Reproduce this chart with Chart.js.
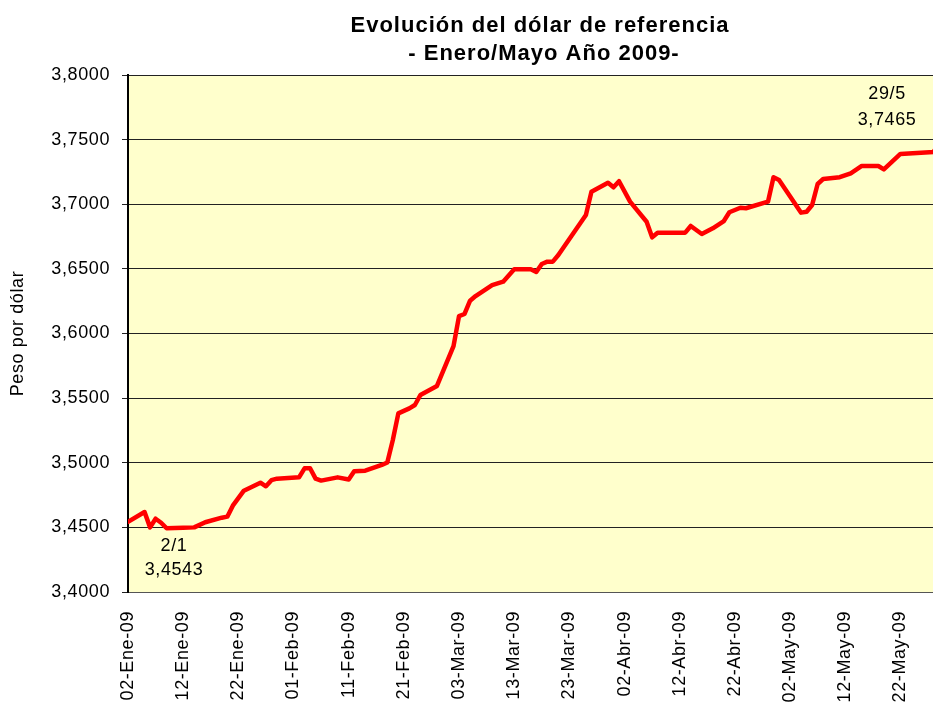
<!DOCTYPE html>
<html lang="es">
<head>
<meta charset="utf-8">
<title>Evolución del dólar de referencia</title>
<script src="https://cdn.jsdelivr.net/npm/chart.js@4.4.1/dist/chart.umd.min.js"></script>
<style>
  html, body { margin: 0; padding: 0; background: #fff; overflow: hidden; }
  canvas { display: block; }
</style>
</head>
<body>
<!-- el lienzo es algo más ancho que la ventana: el 29/5 queda justo en el borde -->
<canvas id="dolarChart" width="941" height="702"></canvas>
<script>
// Cotización del dólar de referencia, enero a mayo 2009
const fechas = [
  '2009-01-02', '2009-01-05', '2009-01-06', '2009-01-07', '2009-01-08', '2009-01-09',
  '2009-01-12', '2009-01-14', '2009-01-16', '2009-01-19', '2009-01-20', '2009-01-21',
  '2009-01-23', '2009-01-26', '2009-01-27', '2009-01-28', '2009-01-29', '2009-02-02',
  '2009-02-03', '2009-02-04', '2009-02-05', '2009-02-06', '2009-02-09', '2009-02-11',
  '2009-02-12', '2009-02-14', '2009-02-17', '2009-02-18', '2009-02-19', '2009-02-20',
  '2009-02-22', '2009-02-23', '2009-02-24', '2009-02-27', '2009-03-02', '2009-03-03',
  '2009-03-04', '2009-03-05', '2009-03-06', '2009-03-09', '2009-03-11', '2009-03-13',
  '2009-03-16', '2009-03-17', '2009-03-18', '2009-03-19', '2009-03-20', '2009-03-21',
  '2009-03-26', '2009-03-27', '2009-03-30', '2009-03-31', '2009-04-01', '2009-04-03',
  '2009-04-06', '2009-04-07', '2009-04-08', '2009-04-13', '2009-04-14', '2009-04-16',
  '2009-04-18', '2009-04-20', '2009-04-21', '2009-04-23', '2009-04-24', '2009-04-28',
  '2009-04-29', '2009-04-30', '2009-05-04', '2009-05-05', '2009-05-06', '2009-05-07',
  '2009-05-08', '2009-05-11', '2009-05-13', '2009-05-15', '2009-05-18', '2009-05-19',
  '2009-05-22', '2009-05-28', '2009-05-29'
];
const valores = [
  3.4543, 3.4619, 3.4500, 3.4567, 3.4536, 3.4493,
  3.4497, 3.4500, 3.4540, 3.4575, 3.4583, 3.4668,
  3.4784, 3.4846, 3.4818, 3.4865, 3.4877, 3.4887,
  3.4957, 3.4957, 3.4877, 3.4862, 3.4887, 3.4870,
  3.4934, 3.4939, 3.4983, 3.5002, 3.5176, 3.5382,
  3.5421, 3.5447, 3.5524, 3.5594, 3.5903, 3.6135,
  3.6151, 3.6254, 3.6290, 3.6375, 3.6401, 3.6497,
  3.6497, 3.6476, 3.6538, 3.6556, 3.6556, 3.6607,
  3.6917, 3.7097, 3.7167, 3.7131, 3.7178, 3.7020,
  3.6865, 3.6744, 3.6780, 3.6780, 3.6832, 3.6770,
  3.6814, 3.6870, 3.6938, 3.6973, 3.6969, 3.7020,
  3.7209, 3.7188, 3.6935, 3.6942, 3.6994, 3.7157,
  3.7195, 3.7209, 3.7239, 3.7296, 3.7296, 3.7270,
  3.7389, 3.7405, 3.7465
];
const titulo = ['Evolución del dólar de referencia', '- Enero/Mayo Año 2009-'];
const tituloEjeY = 'Peso por dólar';
const meses = ['Ene', 'Feb', 'Mar', 'Abr', 'May', 'Jun', 'Jul', 'Ago', 'Sep', 'Oct', 'Nov', 'Dic'];
const yMin = 3.4, yMax = 3.8, yPaso = 0.05;
const xPaso = 10; // una etiqueta cada 10 días

const DIA = 86400000;
const inicio = Date.UTC(2009, 0, 2);
const fuente = '"Liberation Sans", Arial, sans-serif';

function diasDesdeInicio(iso) {
  const [a, m, d] = iso.split('-').map(Number);
  return Math.round((Date.UTC(a, m - 1, d) - inicio) / DIA);
}

function etiquetaFecha(dias) {
  const f = new Date(inicio + dias * DIA);
  return String(f.getUTCDate()).padStart(2, '0') + '-' + meses[f.getUTCMonth()] + '-' +
    String(f.getUTCFullYear()).slice(2);
}

function fechaCorta(iso) {
  const [, m, d] = iso.split('-').map(Number);
  return d + '/' + m;
}

function formatoValor(v) {
  return v.toFixed(4).replace('.', ',');
}

const puntos = fechas.map((f, i) => ({ x: diasDesdeInicio(f), y: valores[i] }));

// fondo amarillo del área de trazado, título y rótulos del primer y último valor
const decorado = {
  id: 'decorado',
  beforeUpdate(chart) {
    chart.ctx.letterSpacing = '0.6px';
  },
  beforeDraw(chart) {
    const { ctx, chartArea: a } = chart;
    ctx.save();
    ctx.fillStyle = '#FFFFCC';
    ctx.fillRect(a.left, a.top, a.right - a.left, a.bottom - a.top);
    ctx.restore();
    ctx.letterSpacing = '0.6px';
  },
  afterDraw(chart) {
    const { ctx, scales: { x, y } } = chart;
    ctx.save();
    ctx.fillStyle = '#000';
    ctx.textAlign = 'center';
    ctx.textBaseline = 'alphabetic';

    ctx.font = 'bold 22px ' + fuente;
    ctx.letterSpacing = '1px';
    ctx.fillText(titulo[0], 540, 32);
    ctx.fillText(titulo[1], 544, 60);

    ctx.font = '18px ' + fuente;
    ctx.letterSpacing = '0.6px';
    ctx.textBaseline = 'middle';
    const n = fechas.length - 1;
    const x0 = x.getPixelForValue(puntos[0].x), y0 = y.getPixelForValue(valores[0]);
    ctx.fillText(fechaCorta(fechas[0]), x0 + 46, y0 + 24);
    ctx.fillText(formatoValor(valores[0]), x0 + 46, y0 + 48);
    const x1 = x.getPixelForValue(puntos[n].x), y1 = y.getPixelForValue(valores[n]);
    ctx.fillText(fechaCorta(fechas[n]), x1 - 52, y1 - 50);
    ctx.fillText(formatoValor(valores[n]), x1 - 52, y1 - 24);
    ctx.restore();
  }
};

new Chart(document.getElementById('dolarChart'), {
  type: 'line',
  data: {
    datasets: [{
      label: 'Dólar de referencia',
      data: puntos,
      borderColor: '#FF0000',
      borderWidth: 4.5,
      borderJoinStyle: 'round',
      borderCapStyle: 'round',
      pointRadius: 0,
      tension: 0,
      fill: false
    }]
  },
  options: {
    responsive: false,
    animation: false,
    devicePixelRatio: 1,
    layout: { padding: { top: 75, left: 0, right: 0, bottom: 0 } },
    plugins: {
      legend: { display: false },
      title: { display: false },
      tooltip: { enabled: false }
    },
    scales: {
      x: {
        type: 'linear',
        min: 0,
        max: diasDesdeInicio(fechas[fechas.length - 1]),
        grid: { display: false, drawTicks: false },
        border: { display: true, color: '#555', width: 1 },
        ticks: {
          stepSize: xPaso,
          maxTicksLimit: 100,
          includeBounds: false,
          autoSkip: false,
          minRotation: 90,
          maxRotation: 90,
          padding: 19,
          color: '#000',
          font: { family: fuente, size: 18 },
          callback: v => etiquetaFecha(v)
        },
        afterFit(s) { s.height = 110; }
      },
      y: {
        min: yMin,
        max: yMax,
        ticks: {
          stepSize: yPaso,
          maxTicksLimit: 100,
          padding: 12,
          color: '#000',
          font: { family: fuente, size: 18 },
          callback: v => formatoValor(v)
        },
        grid: { color: '#222', lineWidth: 1, tickLength: 6, drawTicks: true },
        border: { color: '#000', width: 2 },
        title: {
          display: true,
          text: tituloEjeY,
          color: '#000',
          font: { family: fuente, size: 18 },
          padding: { top: 7, bottom: 0 }
        },
        afterFit(s) { s.width = 128; }
      }
    }
  },
  plugins: [decorado]
});
</script>
</body>
</html>
